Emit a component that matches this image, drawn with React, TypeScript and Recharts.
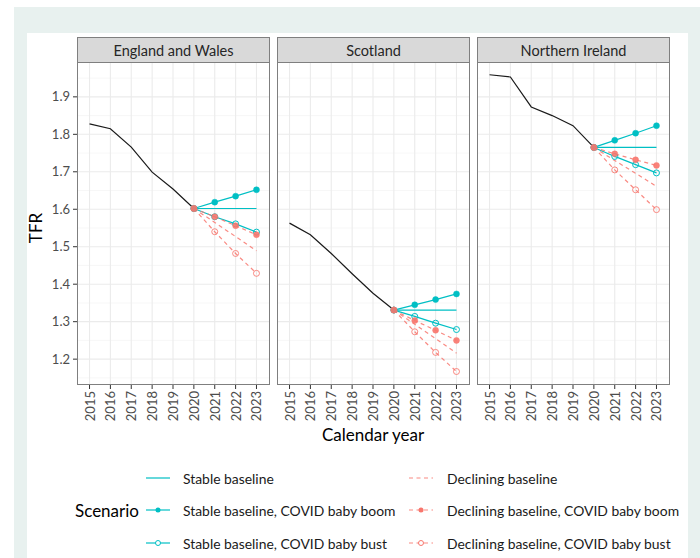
import React from 'react';
import { LineChart, Line, XAxis, YAxis, CartesianGrid } from 'recharts';

// ---------- data ----------
const years = [2015, 2016, 2017, 2018, 2019, 2020, 2021, 2022, 2023];
const observedYears = [2015, 2016, 2017, 2018, 2019, 2020];
const projectionYears = [2020, 2021, 2022, 2023];
const regions = ['England and Wales', 'Scotland', 'Northern Ireland'];

const ewObserved = [1.828, 1.815, 1.766, 1.699, 1.654, 1.602];
const scObserved = [1.563, 1.532, 1.482, 1.428, 1.376, 1.331];
const niObserved = [1.959, 1.953, 1.873, 1.85, 1.823, 1.765];

const ewStable = [1.602, 1.602, 1.602, 1.602];
const ewStableBoom = [1.602, 1.619, 1.635, 1.652];
const ewStableBust = [1.602, 1.58, 1.561, 1.539];
const ewDecl = [1.602, 1.565, 1.527, 1.489];
const ewDeclBoom = [1.602, 1.58, 1.556, 1.532];
const ewDeclBust = [1.602, 1.54, 1.482, 1.429];

const scStable = [1.331, 1.331, 1.331, 1.331];
const scStableBoom = [1.331, 1.345, 1.359, 1.374];
const scStableBust = [1.331, 1.314, 1.296, 1.279];
const scDecl = [1.331, 1.293, 1.255, 1.216];
const scDeclBoom = [1.331, 1.303, 1.277, 1.25];
const scDeclBust = [1.331, 1.273, 1.218, 1.167];

const niStable = [1.765, 1.765, 1.765, 1.765];
const niStableBoom = [1.765, 1.784, 1.803, 1.823];
const niStableBust = [1.765, 1.741, 1.719, 1.697];
const niDecl = [1.765, 1.73, 1.696, 1.661];
const niDeclBoom = [1.765, 1.748, 1.732, 1.717];
const niDeclBust = [1.765, 1.705, 1.652, 1.599];

const yMajorTicks = [1.2, 1.3, 1.4, 1.5, 1.6, 1.7, 1.8, 1.9];
const yMinorTicks = [1.15, 1.25, 1.35, 1.45, 1.55, 1.65, 1.75, 1.85, 1.95];
const yDomain = [1.131, 1.993];
const xDomain = [2014.4, 2023.6];

const legendTitle = 'Scenario';
const stableLabels = ['Stable baseline', 'Stable baseline, COVID baby boom', 'Stable baseline, COVID baby bust'];
const decliningLabels = ['Declining baseline', 'Declining baseline, COVID baby boom', 'Declining baseline, COVID baby bust'];

const regionSeries = [
  { observed: ewObserved, stable: ewStable, stableBoom: ewStableBoom, stableBust: ewStableBust, decl: ewDecl, declBoom: ewDeclBoom, declBust: ewDeclBust },
  { observed: scObserved, stable: scStable, stableBoom: scStableBoom, stableBust: scStableBust, decl: scDecl, declBoom: scDeclBoom, declBust: scDeclBust },
  { observed: niObserved, stable: niStable, stableBoom: niStableBoom, stableBust: niStableBust, decl: niDecl, declBoom: niDeclBoom, declBust: niDeclBust },
];

// ---------- styling ----------
const CYAN = '#00BFC4';
const RED = '#F8766D';
const FONT = 'Lato, "Open Sans", sans-serif';
const PANEL_W = 192;
const PANEL_H = 323;
const PANEL_TOP = 62;
const PANEL_LEFTS = [77, 277, 477];
const Y_AXIS_W = 40;
const X_AXIS_H = 45;

function buildRows(idx: number) {
  const s = regionSeries[idx];
  return years.map((year) => {
    const oi = observedYears.indexOf(year);
    const pi = projectionYears.indexOf(year);
    return {
      year,
      observed: oi >= 0 ? s.observed[oi] : null,
      stable: pi >= 0 ? s.stable[pi] : null,
      stableBoom: pi >= 0 ? s.stableBoom[pi] : null,
      stableBust: pi >= 0 ? s.stableBust[pi] : null,
      decl: pi >= 0 ? s.decl[pi] : null,
      declBoom: pi >= 0 ? s.declBoom[pi] : null,
      declBust: pi >= 0 ? s.declBust[pi] : null,
    };
  });
}

const XTick = (props: any) => {
  const { x, y, payload } = props;
  return (
    <text
      x={x}
      y={y}
      transform={`rotate(-90 ${x} ${y})`}
      textAnchor="end"
      dominantBaseline="central"
      fontSize={13}
      fill="#4d4d4d"
      fontFamily={FONT}
    >
      {payload.value}
    </text>
  );
};

function Panel({ idx }: { idx: number }) {
  const data = buildRows(idx);
  const showY = idx === 0;
  const w = PANEL_W + (showY ? Y_AXIS_W : 0);
  const left = PANEL_LEFTS[idx] - (showY ? Y_AXIS_W : 0);
  return (
    <div style={{ position: 'absolute', left, top: PANEL_TOP }}>
      <LineChart width={w} height={PANEL_H + X_AXIS_H} data={data} margin={{ top: 0, right: 0, bottom: 0, left: 0 }}>
        <CartesianGrid
          horizontalValues={yMinorTicks}
          vertical={false}
          stroke="#f2f2f2"
          strokeWidth={0.6}
        />
        <CartesianGrid
          horizontalValues={yMajorTicks}
          verticalValues={years}
          stroke="#ebebeb"
          strokeWidth={1.1}
        />
        <XAxis
          dataKey="year"
          type="number"
          domain={xDomain}
          allowDataOverflow
          ticks={years}
          interval={0}
          tick={<XTick />}
          tickSize={4}
          tickMargin={2}
          axisLine={false}
          tickLine={{ stroke: '#333333', strokeWidth: 1 }}
          height={X_AXIS_H}
        />
        <YAxis
          type="number"
          domain={yDomain}
          allowDataOverflow
          ticks={yMajorTicks}
          interval={0}
          hide={!showY}
          width={Y_AXIS_W}
          tickSize={4}
          tickMargin={3}
          axisLine={false}
          tickLine={{ stroke: '#333333', strokeWidth: 1 }}
          tick={{ fontSize: 13, fill: '#4d4d4d', fontFamily: FONT }}
          tickFormatter={(v: number) => v.toFixed(1)}
        />
        <Line dataKey="observed" stroke="#1a1a1a" strokeWidth={1.2} dot={false} isAnimationActive={false} />
        <Line dataKey="stable" stroke={CYAN} strokeWidth={1.2} dot={false} isAnimationActive={false} />
        <Line dataKey="stableBoom" stroke={CYAN} strokeWidth={1.2} dot={{ r: 3, fill: CYAN, stroke: CYAN, strokeWidth: 0.5 }} isAnimationActive={false} />
        <Line dataKey="stableBust" stroke={CYAN} strokeWidth={1.2} dot={{ r: 3, fill: 'none', stroke: CYAN, strokeWidth: 1 }} isAnimationActive={false} />
        <Line dataKey="decl" stroke={RED} strokeOpacity={0.85} strokeWidth={1.2} strokeDasharray="4 3.5" dot={false} isAnimationActive={false} />
        <Line dataKey="declBoom" stroke={RED} strokeOpacity={0.85} strokeWidth={1.2} strokeDasharray="4 3.5" dot={{ r: 3, fill: RED, fillOpacity: 0.9, stroke: RED, strokeWidth: 0.5, strokeDasharray: '' }} isAnimationActive={false} />
        <Line dataKey="declBust" stroke={RED} strokeOpacity={0.85} strokeWidth={1.2} strokeDasharray="4 3.5" dot={{ r: 3, fill: 'none', stroke: RED, strokeWidth: 1, strokeDasharray: '' }} isAnimationActive={false} />
      </LineChart>
      <div
        style={{
          position: 'absolute',
          left: showY ? Y_AXIS_W : 0,
          top: 0,
          width: PANEL_W + 1,
          height: PANEL_H,
          border: '1px solid #7f7f7f',
          boxSizing: 'border-box',
          pointerEvents: 'none',
        }}
      />
    </div>
  );
}

function Strip({ idx }: { idx: number }) {
  return (
    <div
      style={{
        position: 'absolute',
        left: PANEL_LEFTS[idx],
        top: 37,
        width: PANEL_W + 1,
        height: 26,
        background: '#d9d9d9',
        border: '1px solid #7f7f7f',
        boxSizing: 'border-box',
        display: 'flex',
        alignItems: 'center',
        justifyContent: 'center',
        fontSize: 14.5,
        fontWeight: 400,
        color: '#262626',
        fontFamily: FONT,
      }}
    >
      {regions[idx]}
    </div>
  );
}

function Legend() {
  const rowsY = [20, 52, 85];
  return (
    <svg width={700} height={100} style={{ position: 'absolute', left: 0, top: 458 }} fontFamily={FONT}>
      <text x={75} y={rowsY[1]} dominantBaseline="central" fontSize={17} fill="#000">
        {legendTitle}
      </text>
      {stableLabels.map((lab, i) => (
        <g key={lab}>
          <line x1={146} x2={170} y1={rowsY[i]} y2={rowsY[i]} stroke={CYAN} strokeWidth={1.2} />
          {i === 1 && <circle cx={158} cy={rowsY[i]} r={2.5} fill={CYAN} />}
          {i === 2 && <circle cx={158} cy={rowsY[i]} r={2.5} fill="#fff" stroke={CYAN} strokeWidth={1} />}
          <text x={183} y={rowsY[i]} dominantBaseline="central" fontSize={13.9} fill="#1a1a1a">
            {lab}
          </text>
        </g>
      ))}
      {decliningLabels.map((lab, i) => (
        <g key={lab}>
          <line x1={409} x2={433} y1={rowsY[i]} y2={rowsY[i]} stroke={RED} strokeOpacity={0.85} strokeWidth={1.2} strokeDasharray="4 3.5" />
          {i === 1 && <circle cx={421} cy={rowsY[i]} r={2.5} fill={RED} />}
          {i === 2 && <circle cx={421} cy={rowsY[i]} r={2.5} fill="#fff" stroke={RED} strokeWidth={1} />}
          <text x={447} y={rowsY[i]} dominantBaseline="central" fontSize={13.9} fill="#1a1a1a">
            {lab}
          </text>
        </g>
      ))}
    </svg>
  );
}

export default function App() {
  return (
    <div style={{ position: 'absolute', left: 0, top: 0, width: 700, height: 558, background: '#fff', overflow: 'hidden', fontFamily: FONT }}>
      <div style={{ position: 'absolute', left: 14, top: 7, width: 686, height: 551, background: '#e8f1ef' }} />
      <div style={{ position: 'absolute', left: 27, top: 33, width: 661, height: 525, background: '#ffffff' }} />
      {[0, 1, 2].map((i) => (
        <Strip key={`s${i}`} idx={i} />
      ))}
      {[0, 1, 2].map((i) => (
        <Panel key={`p${i}`} idx={i} />
      ))}
      <div
        style={{
          position: 'absolute',
          left: 35,
          top: 228,
          transform: 'translate(-50%, -50%) rotate(-90deg)',
          fontSize: 17,
          color: '#000',
          whiteSpace: 'nowrap',
        }}
      >
        TFR
      </div>
      <div
        style={{
          position: 'absolute',
          left: 373,
          top: 434,
          transform: 'translate(-50%, -50%)',
          fontSize: 17,
          color: '#000',
          whiteSpace: 'nowrap',
        }}
      >
        Calendar year
      </div>
      <Legend />
    </div>
  );
}
